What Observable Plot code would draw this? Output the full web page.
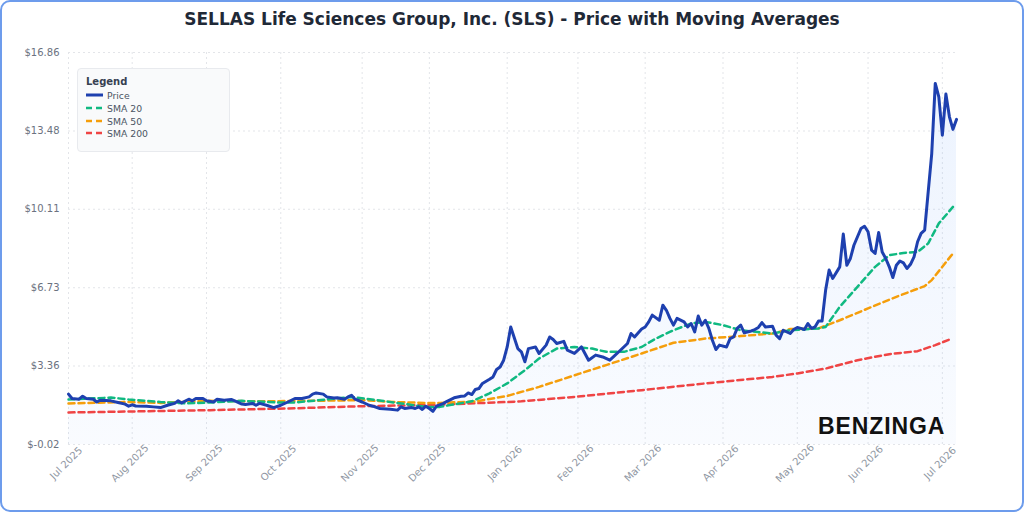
<!DOCTYPE html>
<html>
<head>
<meta charset="utf-8">
<script src="https://cdn.jsdelivr.net/npm/d3@7"></script>
<script src="https://cdn.jsdelivr.net/npm/@observablehq/plot@0.6"></script>
<style>
  html, body { margin: 0; padding: 0; background: #ffffff; }
  #card { position: relative; width: 1024px; height: 512px; overflow: hidden; font-family: "DejaVu Sans", sans-serif; background: #fff; }
  #border { position: absolute; left: 0; top: 0; width: 1024px; height: 512px; box-sizing: border-box; border: 2px solid #6d9cec; border-radius: 10px; pointer-events: none; }
  #title { height: 40px; line-height: 39px; text-align: center; font-weight: bold; font-size: 17px; color: #1f2937; white-space: nowrap; }
  #legend { position: absolute; left: 77px; top: 68px; width: 153px; height: 84px; box-sizing: border-box; background: #f9fafb; border: 1px solid #e8eaee; border-radius: 4px; }
  #legend .lt { position: absolute; left: 8px; top: 7px; font-weight: bold; font-size: 10px; color: #374151; }
  #legend .row { position: absolute; left: 8px; height: 12px; display: flex; align-items: center; }
  #legend .row span { margin-left: 4px; font-size: 9.3px; color: #4b5563; }
  #brand { position: absolute; left: 818px; top: 415px; font-family: "Liberation Sans", Arial, sans-serif; font-weight: bold; font-size: 23px; line-height: 23px; letter-spacing: 0.9px; color: #111; }
</style>
</head>
<body>
<div id="card">
  <div id="title">SELLAS Life Sciences Group, Inc. (SLS) - Price with Moving Averages</div>
  <div id="chart"></div>
  <div id="legend"></div>
  <div id="brand">BENZINGA</div>
  <div id="border"></div>
</div>
<script>
// ---- Data (x = trading-day index since first session) ----
const monthDay = [0, 18, 39, 60, 83, 102, 124, 144, 163, 185, 206, 226, 247];
const monthLabel = ["Jul 2025","Aug 2025","Sep 2025","Oct 2025","Nov 2025","Dec 2025","Jan 2026","Feb 2026","Mar 2026","Apr 2026","May 2026","Jun 2026","Jul 2026"];
const yTicks = [-0.02, 3.36, 6.73, 10.11, 13.48, 16.86];

const priceDay = [0,1,3,4,5,7,8,9,12,14,16,17,18,19,22,24,26,28,30,31,32,34,35,36,38,39,41,42,44,46,47,49,50,52,53,54,56,58,60,62,64,66,68,69,70,72,73,75,76,78,79,80,81,83,85,86,88,91,93,94,95,97,98,99,100,101,102,103,104,106,107,109,111,112,113,114,115,116,117,119,120,121,122,123,124,125,127,128,129,130,132,133,135,136,137,138,140,141,143,145,147,149,151,153,154,156,158,159,160,162,163,164,165,167,168,169,170,171,172,174,175,176,177,178,179,180,181,182,183,184,186,187,188,189,190,191,193,194,195,196,197,199,200,201,202,204,205,206,207,208,209,210,211,212,213,214,215,216,218,219,220,221,222,224,225,226,227,228,229,230,231,232,233,234,235,236,237,238,239,240,241,242,244,245,246,247,248,249,250,251];
const priceValue = [2.15,1.96,1.93,2.06,1.96,1.93,1.81,1.89,1.86,1.79,1.72,1.63,1.69,1.64,1.63,1.60,1.57,1.67,1.75,1.86,1.77,1.93,1.86,1.96,1.96,1.86,1.81,1.93,1.89,1.92,1.86,1.72,1.70,1.75,1.67,1.75,1.67,1.57,1.67,1.81,1.96,1.96,2.03,2.15,2.20,2.15,2.03,1.98,1.99,1.93,2.03,2.10,1.93,1.81,1.67,1.63,1.53,1.50,1.46,1.60,1.53,1.57,1.53,1.60,1.49,1.63,1.53,1.41,1.63,1.75,1.84,1.99,2.06,2.07,2.20,2.13,2.35,2.39,2.61,2.79,2.89,3.21,3.32,3.61,4.18,5.04,4.11,3.97,3.54,4.11,4.18,3.90,4.26,4.61,4.50,4.33,4.42,4.04,3.90,4.18,3.61,3.83,3.75,3.61,3.75,4.04,4.33,4.76,4.61,4.95,5.04,5.26,5.55,5.33,5.98,5.76,5.41,5.12,5.41,5.26,5.04,5.19,4.83,5.51,5.12,5.33,4.98,4.47,4.07,4.26,4.18,4.54,4.61,4.98,5.12,4.79,4.87,4.93,5.02,5.23,5.04,5.07,4.69,4.54,4.90,4.76,4.93,5.02,4.98,4.93,5.19,4.98,5.04,5.30,5.30,6.62,7.49,7.13,7.63,9.04,7.70,7.99,8.56,9.28,9.38,9.14,8.35,8.21,9.11,8.27,7.99,7.63,7.17,7.70,7.88,7.80,7.56,7.74,8.06,8.71,9.07,9.21,12.51,15.53,14.95,13.30,15.07,14.09,13.55,13.98];

const sma20Day = [0,12,17,26,33,40,49,59,64,73,80,87,94,101,105,114,119,124,129,133,138,143,148,152,157,162,166,171,176,180,185,190,199,204,212,214,218,223,228,232,236,240,243,246,250];
const sma20Value = [1.92,2.00,1.92,1.81,1.75,1.79,1.86,1.79,1.79,1.92,2.03,1.89,1.75,1.60,1.60,1.84,2.18,2.61,3.18,3.68,4.11,4.18,4.11,3.97,3.97,4.18,4.54,4.90,5.19,5.26,5.12,4.90,4.76,4.90,4.98,5.04,5.91,6.77,7.63,8.13,8.23,8.27,8.64,9.50,10.21];

const sma50Day = [0,17,26,40,54,68,83,92,101,105,115,124,133,143,152,162,171,180,190,199,204,212,218,226,234,242,244,250];
const sma50Value = [1.75,1.81,1.77,1.86,1.84,1.86,1.89,1.81,1.77,1.77,1.83,2.07,2.46,2.96,3.40,3.90,4.36,4.54,4.65,4.76,4.95,4.98,5.33,5.84,6.34,6.80,7.06,8.21];

const sma200Day = [0,17,40,64,83,102,124,128,143,162,180,199,206,214,223,232,240,245,249];
const sma200Value = [1.36,1.40,1.46,1.54,1.63,1.68,1.81,1.84,2.03,2.32,2.61,2.89,3.04,3.25,3.61,3.87,4.00,4.26,4.50];

const seriesNames = ["Price", "SMA 20", "SMA 50", "SMA 200"];
const seriesColors = ["#1e40af", "#10b981", "#f59e0b", "#ef4444"];

// ---- Build tables ----
const price = priceDay.map((d, i) => ({day: d, v: priceValue[i]}));
const toRows = (days, vals) => days.map((d, i) => ({day: d, v: vals[i]}));
const sma20 = toRows(sma20Day, sma20Value);
const sma50 = toRows(sma50Day, sma50Value);
const sma200 = toRows(sma200Day, sma200Value);

const yMin = yTicks[0], yMax = yTicks[yTicks.length - 1];
const gridStyle = {stroke: "#e3e5e9", strokeOpacity: 1, strokeWidth: 1, strokeDasharray: "2,3"};
const dash = "6,4";

const chart = Plot.plot({
  width: 1024,
  height: 472,
  marginTop: 12,
  marginBottom: 68,
  marginLeft: 68,
  marginRight: 68,
  style: {fontFamily: "DejaVu Sans", fontSize: "10px", background: "transparent", overflow: "visible"},
  x: {type: "linear", domain: [priceDay[0], priceDay[priceDay.length - 1]], axis: null},
  y: {domain: [yMin, yMax], axis: null},
  marks: [
    Plot.gridY(yTicks, gridStyle),
    Plot.gridX(monthDay, gridStyle),
    Plot.areaY(price, {x: "day", y1: yMin, y2: "v", fill: "url(#priceFill)"}),
    Plot.line(sma200, {x: "day", y: "v", stroke: seriesColors[3], strokeWidth: 2.5, strokeDasharray: dash}),
    Plot.line(sma50, {x: "day", y: "v", stroke: seriesColors[2], strokeWidth: 2.5, strokeDasharray: dash}),
    Plot.line(sma20, {x: "day", y: "v", stroke: seriesColors[1], strokeWidth: 2.5, strokeDasharray: dash}),
    Plot.line(price, {x: "day", y: "v", stroke: seriesColors[0], strokeWidth: 3, strokeLinejoin: "round", strokeLinecap: "round"}),
    Plot.axisY(yTicks, {label: null, tickFormat: d => "$" + d.toFixed(2), tickSize: 0, tickPadding: 9, color: "#6b7280", fontSize: 10}),
    Plot.text(monthDay, {x: d => d, frameAnchor: "bottom", text: (d, i) => monthLabel[i], rotate: -45, dy: 21, textAnchor: "middle", fill: "#9097a3", fontSize: 10})
  ]
});

// gradient for the price area
const ns = "http://www.w3.org/2000/svg";
const defs = document.createElementNS(ns, "defs");
defs.innerHTML = '<linearGradient id="priceFill" gradientUnits="userSpaceOnUse" x1="0" y1="12" x2="0" y2="404">' +
  '<stop offset="0" stop-color="#3b82f6" stop-opacity="0.10"/>' +
  '<stop offset="1" stop-color="#3b82f6" stop-opacity="0.03"/></linearGradient>';
chart.insertBefore(defs, chart.firstChild);
document.getElementById("chart").appendChild(chart);

// legend
const legend = document.getElementById("legend");
legend.innerHTML = '<div class="lt">Legend</div>' + seriesNames.map((name, i) => {
  const top = [20, 33, 46, 58][i];
  const line = i === 0
    ? `<line x1="0" y1="2" x2="17" y2="2" stroke="${seriesColors[i]}" stroke-width="3"/>`
    : `<line x1="0" y1="2" x2="17" y2="2" stroke="${seriesColors[i]}" stroke-width="2.5" stroke-dasharray="6,4"/>`;
  return `<div class="row" style="top:${top}px"><svg width="17" height="4">${line}</svg><span>${name}</span></div>`;
}).join("");
</script>
</body>
</html>
